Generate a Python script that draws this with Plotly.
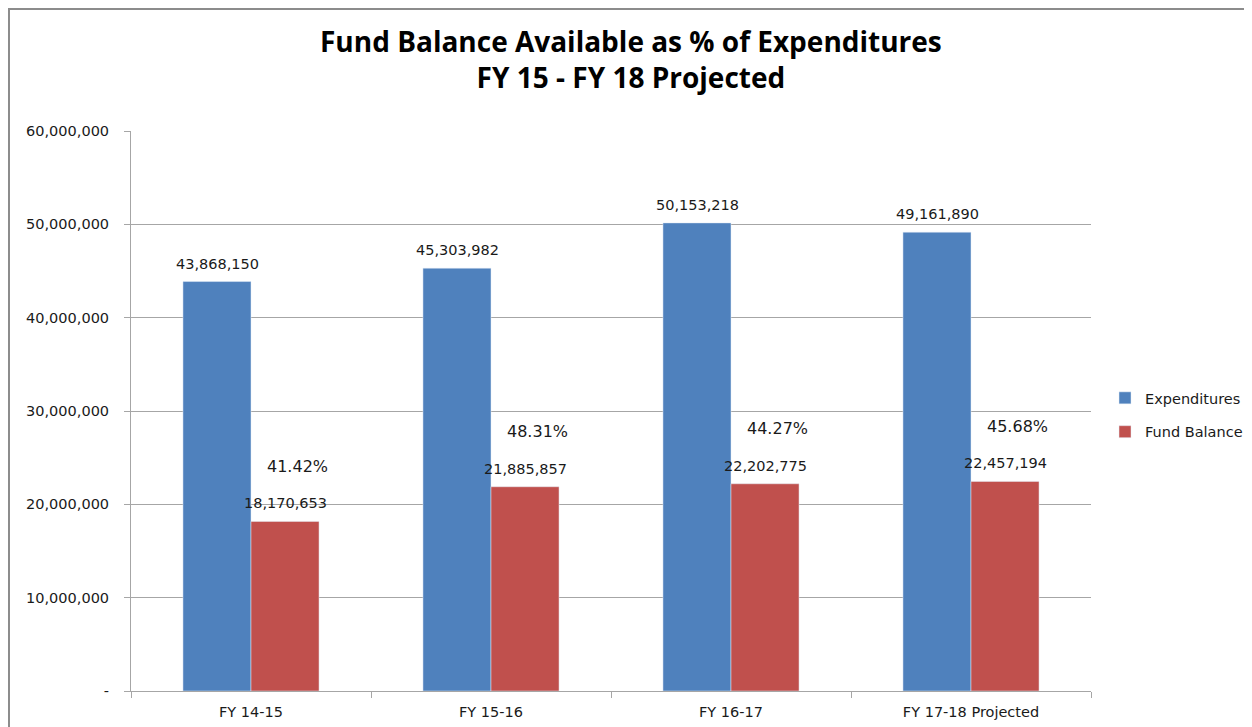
import plotly.graph_objects as go

years = ["FY 14-15", "FY 15-16", "FY 16-17", "FY 17-18 Projected"]
expenditures = [43868150, 45303982, 50153218, 49161890]
fund_balance = [18170653, 21885857, 22202775, 22457194]
pct_labels = ["41.42%", "48.31%", "44.27%", "45.68%"]

y_ticks = [0, 10000000, 20000000, 30000000, 40000000, 50000000, 60000000]
y_tick_text = ["-", "10,000,000", "20,000,000", "30,000,000",
               "40,000,000", "50,000,000", "60,000,000"]

font = "DejaVu Sans"
txt = "#1a1a1a"

fig = go.Figure()
fig.add_trace(go.Bar(x=years, y=expenditures, name="Expenditures",
                     marker_color="#4f81bd", legendgroup="a"))
fig.add_trace(go.Bar(x=years, y=fund_balance, name="Fund Balance",
                     marker_color="#c0504d", legendgroup="b"))

# value labels above each bar
for yr, ex, fb, lab in zip(years, expenditures, fund_balance, pct_labels):
    fig.add_annotation(x=yr, y=ex, text=f"{ex:,}", showarrow=False,
                       xshift=-34, yshift=8, yanchor="bottom",
                       font=dict(size=14.5, color=txt, family=font))
    fig.add_annotation(x=yr, y=fb, text=f"{fb:,}", showarrow=False,
                       xshift=34, yshift=8, yanchor="bottom",
                       font=dict(size=14.5, color=txt, family=font))
    fig.add_annotation(x=yr, y=fb, text=lab, showarrow=False,
                       xshift=46, yshift=55,
                       font=dict(size=16, color=txt, family=font))

# title
fig.add_annotation(xref="paper", yref="paper", x=0.5208, y=1.1286,
                   text="<b>Fund Balance Available as % of Expenditures<br>FY 15 - FY 18 Projected</b>",
                   showarrow=False, xanchor="center", yanchor="middle",
                   font=dict(size=28, color="black", family="Open Sans"))

fig.update_layout(
    width=1252, height=727,
    margin=dict(l=123, r=169, t=123, b=44),
    paper_bgcolor="white", plot_bgcolor="white",
    font=dict(family=font, size=14, color=txt),
    barmode="group", bargap=0.433, bargroupgap=0,
    legend=dict(x=1.0146, y=0.493, xanchor="left", yanchor="middle",
                font=dict(size=14.5), tracegroupgap=12),
    showlegend=True,
    shapes=[dict(type="rect", xref="paper", yref="paper",
                 x0=-0.1271, x1=1.3, y0=-0.2, y1=1.2178,
                 line=dict(color="#8c8c8c", width=2), layer="below")],
)
fig.update_yaxes(range=[0, 60000000], tickvals=y_ticks, ticktext=y_tick_text,
                 showgrid=True, gridcolor="#a6a6a6", gridwidth=1,
                 showline=True, linecolor="#a6a6a6", ticks="outside",
                 ticklen=6, tickcolor="#a6a6a6", zeroline=False,
                 ticklabelstandoff=12, tickfont=dict(size=14.5))
fig.update_xaxes(showline=True, linecolor="#a6a6a6", ticks="outside",
                 tickson="boundaries", ticklen=6, tickcolor="#a6a6a6",
                 showgrid=False, ticklabelstandoff=8,
                 tickfont=dict(size=14.5))

fig.write_html("out.html")
